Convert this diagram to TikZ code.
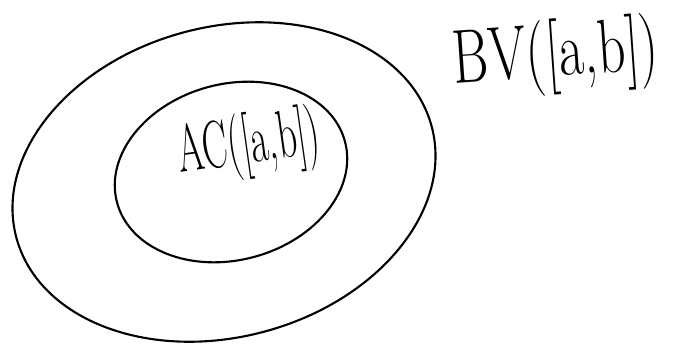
\documentclass[tikz,border=0pt]{standalone}
\usepackage{tikz}
\usetikzlibrary{shapes.geometric,positioning}
\tikzstyle{set} = [ellipse, draw, line width=1.2pt, inner sep=0pt, rotate=15]
\tikzstyle{setlabel} = [inner sep=0pt]

\begin{document}
\begin{tikzpicture}[x=0.02cm, y=-0.02cm]
    \useasboundingbox (0,0) rectangle (678,349);
    \node [set, minimum width=8.6cm, minimum height=6.2cm] (bv) at (224,182) {};
    \node [set, minimum width=4.72cm, minimum height=3.52cm] (ac) at (231,172) {};
    \node [setlabel, font=\fontsize{31}{34}\selectfont, rotate=4, yscale=1.4] (bvlabel) at (556,57) {BV([a,b])};
    \node [setlabel, font=\fontsize{24}{28}\selectfont, rotate=8, xscale=0.9, yscale=1.6] (aclabel) at (249,146) {AC([a,b])};
  \end{tikzpicture}
\end{document}
